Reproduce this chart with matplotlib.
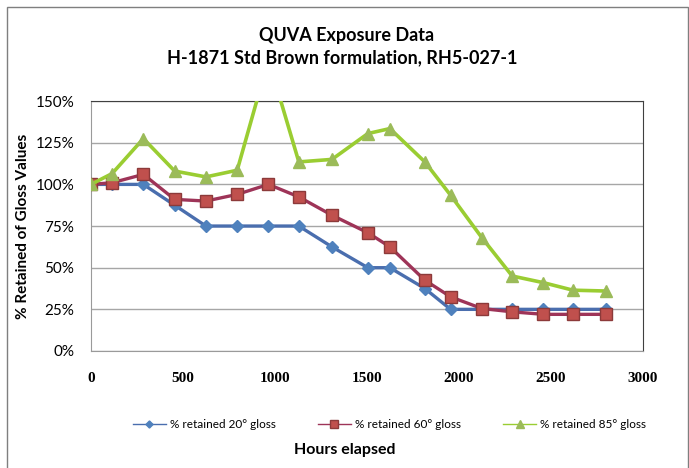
import numpy as np
import matplotlib
matplotlib.use("Agg")
import matplotlib.pyplot as plt
from matplotlib.ticker import PercentFormatter

hours = [0, 115, 285, 455, 625, 795, 965, 1130, 1310, 1505, 1625, 1815, 1955, 2125, 2290, 2460, 2620, 2800]
gloss20 = [100, 100, 100, 87.5, 75, 75, 75, 75, 62.5, 50, 50, 37.5, 25, 25, 25, 25, 25, 25]
gloss60 = [100, 101, 106, 91, 90, 94, 100, 92.5, 81.5, 71, 62.5, 42.5, 32.5, 25.5, 23.5, 22, 22, 22]
gloss85 = [100, 106.5, 127.5, 108, 104.5, 108.5, 175, 113.5, 115, 130.5, 133.5, 113.5, 93.5, 68, 45, 41, 36.5, 36]

plt.rcParams["font.family"] = ["Lato", "DejaVu Sans"]

fig = plt.figure(figsize=(6.89, 4.68), dpi=100)
ax = fig.add_axes([0.132, 0.250, 0.801, 0.534])

ax.plot(hours, gloss20, color="#4A6EAE", lw=2.4, marker="D", ms=6,
        mfc="#4F81BD", mec="#4F81BD", label="% retained 20° gloss", zorder=3)
ax.plot(hours, gloss60, color="#9E3458", lw=2.4, marker="s", ms=9,
        mfc="#C0504D", mec="#8C3A3A", label="% retained 60° gloss", zorder=3)
ax.plot(hours, gloss85, color="#9ACD32", lw=2.6, marker="^", ms=9,
        mfc="#9BBB59", mec="#9BBB59", label="% retained 85° gloss", zorder=3)

ax.set_xlim(0, 3000)
ax.set_ylim(0, 150)
ax.set_xticks(np.arange(0, 3001, 500))
ax.set_yticks(np.arange(0, 151, 25))
ax.yaxis.set_major_formatter(PercentFormatter(decimals=0))
ax.grid(axis="y", color="#A6A6A6", lw=1)
ax.set_axisbelow(True)
ax.tick_params(length=0)
ax.tick_params(axis="y", labelsize=11, pad=12)
ax.tick_params(axis="x", pad=15)
for lab in ax.get_xticklabels():
    lab.set_family("Liberation Serif")
    lab.set_fontweight("bold")
    lab.set_fontsize(11)
for side in ["left", "bottom"]:
    ax.spines[side].set_color("#9A9A9A")
for side in ["top", "right"]:
    ax.spines[side].set_color("#404040")

ax.set_ylabel("% Retained of Gloss Values", fontsize=11, fontweight="bold", labelpad=4)
fig.text(0.5, 0.030, "Hours elapsed", ha="center", fontsize=11.5, fontweight="bold")
fig.text(0.503, 0.925, "QUVA Exposure Data", ha="center", va="center", fontsize=13, fontweight="bold")
fig.text(0.497, 0.876, "H-1871 Std Brown formulation, RH5-027-1", ha="center", va="center",
         fontsize=13, fontweight="bold")

leg = fig.legend(loc="center", bbox_to_anchor=(0.565, 0.092), ncol=3, frameon=False,
                 fontsize=8.5, handlelength=2.8, handletextpad=0.3, markerscale=0.6,
                 columnspacing=3.6)
for h in leg.legend_handles:
    h.set_linewidth(1)

border = plt.Rectangle((0.010, -0.01), 0.988, 0.995, transform=fig.transFigure,
                       fill=False, ec="#7F7F7F", lw=1)
fig.add_artist(border)

fig.savefig("out.png", dpi=100)
